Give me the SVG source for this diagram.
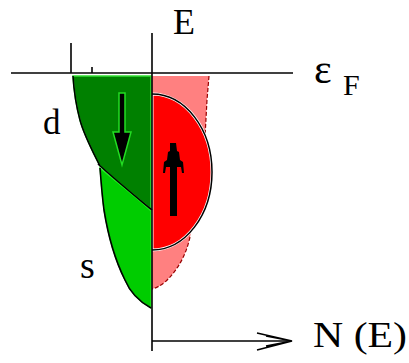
<svg xmlns="http://www.w3.org/2000/svg" width="409" height="363" viewBox="0 0 409 363">
<style>
.ax{stroke:#000;stroke-width:1.6;fill:none}
.edge{stroke:#000;stroke-width:1.6;fill:none}
</style>
<rect width="409" height="363" fill="#fff"/>
<g id="labels">
<text x="173" y="34" font-size="36" font-family="Times New Roman, Liberation Serif, serif">E</text>
<text x="314" y="83" font-size="42" font-family="Times New Roman, Liberation Serif, serif">&#949;</text>
<text x="343" y="95" font-size="30" font-family="Times New Roman, Liberation Serif, serif">F</text>
<text x="43" y="134" font-size="35" font-family="Times New Roman, Liberation Serif, serif">d</text>
<text x="80" y="278" font-size="38" font-family="Times New Roman, Liberation Serif, serif">s</text>
<text x="313" y="347" font-size="36" font-family="Times New Roman, Liberation Serif, serif" textLength="94" lengthAdjust="spacingAndGlyphs">N (E)</text>
</g>
<g id="spin-up">
<path d="M152,76 L209,76 L207,100 L205,137 L200,200 L190,237 C186,255 178,270 165,282 C160,286 156,288 152,289 Z" fill="#ff8080"/>
<path d="M209,76 L207,100 L205,137 M190,237 C186,255 178,270 165,282 C160,286 156,288 152,289" fill="none" stroke="#900" stroke-width="1.2" stroke-dasharray="4 2"/>
<path d="M152,94 A60,78 0 0 1 152,250 Z" fill="#ff0000" stroke="#fff" stroke-width="3"/>
<path d="M152,94 A60,78 0 0 1 152,250" fill="none" stroke="#000" stroke-width="1.5"/>
<polygon points="170,143 176,143 177,151 179,152 180,160 183,162 184,173 182,173 181,167 177,167 177,216 170,216 170,167 166,167 165,173 163,173 164,162 167,160 168,152 170,151" fill="#000"/>
</g>
<g id="spin-down-d">
<path d="M73,76 L151,76 L151,209 C140,200 120,184 100,166 C92,150 84,135 80,120 C76,105 74,92 73,76 Z" fill="#008000" stroke="#33e033" stroke-width="1.5"/>
<polygon points="119,93 125,93 125,132 131,132 122,165 113,132 119,132" fill="#000" stroke="#22dd22" stroke-width="1.5"/>
</g>
<g id="spin-down-s">
<path d="M100,168 C120,185 140,200 151,211 L151,308 C140,302 130,292 125,280 C115,260 108,235 104,210 C102,195 101,180 100,168 Z" fill="#00cc00" stroke="#22ee22" stroke-width="1.2"/>
</g>
<g id="outlines">
<path class="edge" d="M73,76 C74,92 76,105 80,120 C84,135 92,150 100,166 M98,164 C120,184 140,200 152,210 M100,168 C101,180 102,195 104,210 C108,235 115,260 125,280 C130,292 140,302 151,308"/>
</g>
<g id="connectors">
<line class="ax" x1="152" y1="33" x2="152" y2="351"/>
<line class="ax" x1="11" y1="73" x2="293" y2="73"/>
<line class="ax" x1="71" y1="43" x2="71" y2="73"/>
<line class="ax" x1="92" y1="67" x2="92" y2="73"/>
<line class="ax" x1="152" y1="341" x2="290" y2="341"/>
<path class="ax" d="M257,333 L292,341 L257,350 M266,336 L292,341 L266,346" stroke-width="1.2"/>
</g>
</svg>
